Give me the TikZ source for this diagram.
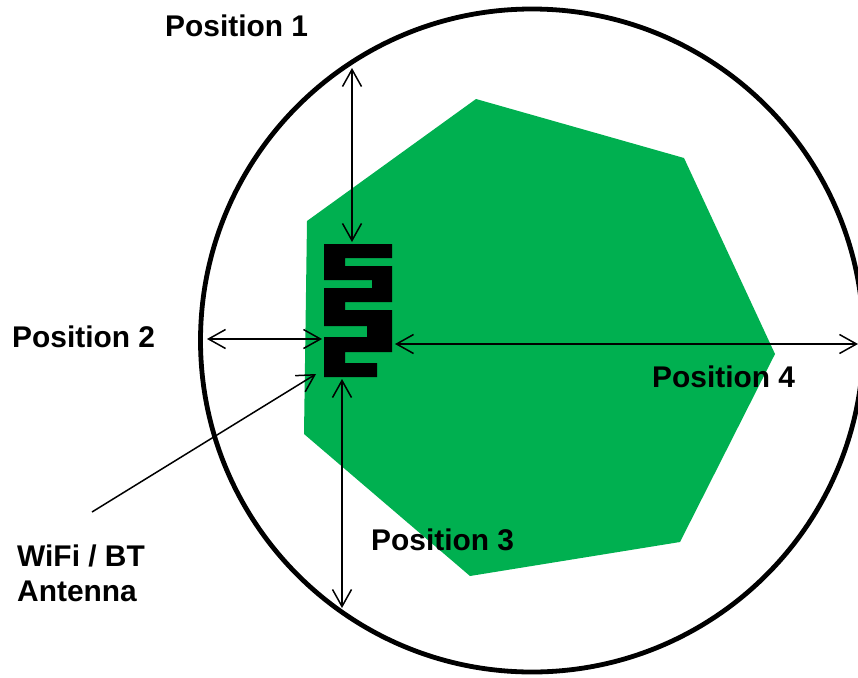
\documentclass[tikz,border=0pt]{standalone}
\usepackage{fontspec}
\setmainfont{Liberation Sans}
\usetikzlibrary{arrows.meta}
\definecolor{boardgreen}{HTML}{00B050}

\begin{document}
\begin{tikzpicture}[x=1pt, y=-1pt, >={Straight Barb[length=17pt,width=19pt]}]
    \tikzstyle{label} = [inner sep=0pt, anchor=base west, align=left, font=\fontsize{29.9}{34}\selectfont\bfseries]
    \tikzstyle{measure} = [<->, line width=1.5pt]
    \clip (0,0) rectangle (858,677);

    \draw [line width=4.8pt] (532,340.5) circle (331.5);
    \fill [boardgreen, line join=round] (476,99) -- (684,158) -- (775,354) -- (680,542) -- (470,576) -- (304,434) -- (307,221) -- cycle;

    % antenna trace
    \fill (324,244) -- (392,244) -- (392,258) -- (345,258) -- (345,266) -- (392,266) -- (392,302) -- (345,302) -- (345,310) -- (392,310) -- (392,352) -- (345,352) -- (345,363) -- (377,363) -- (377,377) -- (324,377) -- (324,337) -- (367,337) -- (367,326) -- (324,326) -- (324,288) -- (372,288) -- (372,280) -- (324,280) -- cycle;

    \node (pos1) [label] at (165,37) {Position 1};
    \node (pos2) [label] at (12,347) {Position 2};
    \node (pos3) [label] at (371,550) {Position 3};
    \node (pos4) [label] at (652,387) {Position 4};
    \node (wifi) [label] at (17,566) {WiFi / BT};
    \node (ant) [label] at (17,601) {Antenna};

    \coordinate (edge1) at (352,68);
    \coordinate (top) at (352,242);
    \coordinate (edge2) at (207,339);
    \coordinate (left) at (322,339);
    \coordinate (edge3) at (342,608);
    \coordinate (bottom) at (342,379);
    \coordinate (edge4) at (858,344);
    \coordinate (right) at (395,344);
    \coordinate (tail) at (92,512);
    \coordinate (feed) at (316,374);

    \draw [measure] (edge1) -- (top);
    \draw [measure] (edge2) -- (left);
    \draw [measure] (edge3) -- (bottom);
    \draw [measure] (edge4) -- (right);
    \draw [->, line width=1.5pt] (tail) -- (feed);
\end{tikzpicture}
\end{document}
